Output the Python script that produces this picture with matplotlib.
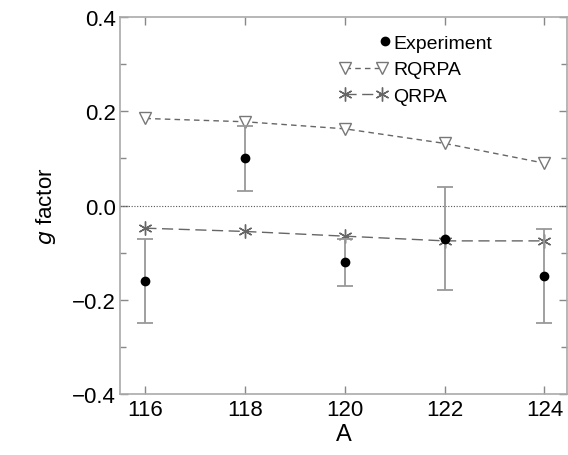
import matplotlib.pyplot as plt
from matplotlib.lines import Line2D
from matplotlib.legend_handler import HandlerLine2D
from matplotlib.ticker import MultipleLocator

plt.rcParams['font.family'] = ['Liberation Sans', 'DejaVu Sans']

mass = [116, 118, 120, 122, 124]
exp_g = [-0.16, 0.10, -0.12, -0.07, -0.15]
exp_err = [0.09, 0.07, 0.05, 0.11, 0.10]
rqrpa = [0.185, 0.178, 0.163, 0.132, 0.090]
qrpa = [-0.048, -0.055, -0.065, -0.075, -0.075]


class RightMarker(HandlerLine2D):
    # single marker at the right end of the handle
    def get_xdata(self, legend, xdescent, ydescent, width, height, fontsize):
        xr = width - xdescent - 0.15 * fontsize
        return [xr, xr], [xr]


fig = plt.figure(figsize=(5.68, 4.56), dpi=100)
ax = fig.add_axes([0.212, 0.134, 0.786, 0.826])

ax.axhline(0, color='#555555', lw=0.8, ls=(0, (1, 1.5)))
ax.plot(mass, rqrpa, color='#666666', lw=1.0, ls=(0, (4, 3)),
        marker='v', ms=9, mfc='white', mec='#777777', mew=1.0)
ax.plot(mass, qrpa, color='#666666', lw=1.0, ls=(0, (8, 4)),
        marker=(6, 2, 0), ms=10, mec='#666666', mew=1.0)
ax.errorbar(mass, exp_g, yerr=exp_err, fmt='o', color='black', ms=6,
            ecolor='#999999', elinewidth=1.3, capsize=5.5, capthick=1.3)

h_exp = Line2D([], [], ls='none', marker='o', color='black', ms=6)
h_rq = Line2D([], [], color='#666666', lw=1.0, ls=(0, (4, 3)),
              marker='v', ms=9, mfc='white', mec='#777777', mew=1.0)
h_q = Line2D([], [], color='#666666', lw=1.0, ls=(0, (8, 4)),
             marker=(6, 2, 0), ms=10, mec='#666666', mew=1.0)
ax.legend([h_exp, h_rq, h_q], ['Experiment', 'RQRPA', 'QRPA'],
          handler_map={h_exp: RightMarker(numpoints=1)},
          loc='upper left', bbox_to_anchor=(0.472, 0.975), frameon=False,
          fontsize=14, numpoints=2, handlelength=2.5, handletextpad=0.3,
          labelspacing=0.45, borderaxespad=0)

ax.set_xlim(115.5, 124.45)
ax.set_ylim(-0.4, 0.4)
ax.xaxis.set_major_locator(MultipleLocator(2))
ax.yaxis.set_minor_locator(MultipleLocator(0.1))
ax.set_yticks([-0.4, -0.2, 0.0, 0.2, 0.4])
ax.set_yticklabels(['\u22120.4', '\u22120.2', '0.0', '0.2', '0.4'])
ax.tick_params(which='both', direction='in', top=True, right=True,
               labelsize=16, color='#888888', width=1.0)
ax.tick_params(which='major', length=6)
ax.tick_params(which='minor', length=4)
for s in ax.spines.values():
    s.set_color('#aaaaaa')
    s.set_linewidth(1.2)

ax.set_xlabel('A', fontsize=17, labelpad=2)
ax.set_ylabel('$g$ factor', fontsize=16, labelpad=10)

fig.savefig('out.png', dpi=100)
